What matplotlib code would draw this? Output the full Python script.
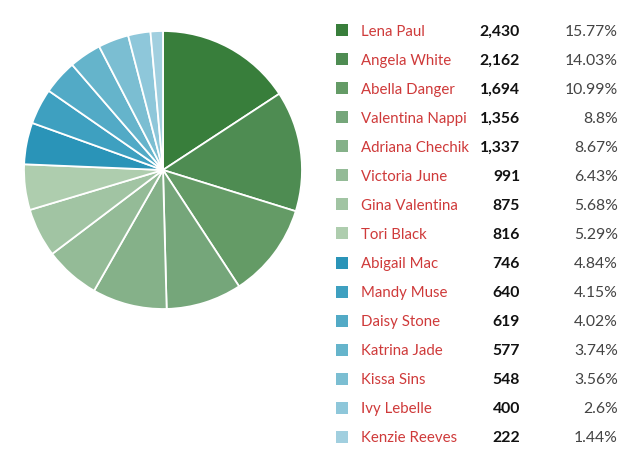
import matplotlib.pyplot as plt
from matplotlib.patches import Rectangle

W, H = 640, 465

names = ['Lena Paul', 'Angela White', 'Abella Danger', 'Valentina Nappi',
         'Adriana Chechik', 'Victoria June', 'Gina Valentina', 'Tori Black',
         'Abigail Mac', 'Mandy Muse', 'Daisy Stone', 'Katrina Jade',
         'Kissa Sins', 'Ivy Lebelle', 'Kenzie Reeves']
counts = [2430, 2162, 1694, 1356, 1337, 991, 875, 816,
          746, 640, 619, 577, 548, 400, 222]
colors = ['#387e3b', '#4e8c52', '#649b66', '#75a67a', '#85b189', '#94bb97',
          '#a1c4a3', '#aecdae', '#2a94b8', '#3ea0c0', '#52aac6', '#65b4cb',
          '#7bbed2', '#8ec7da', '#a1cfdf']

plt.rcParams['font.family'] = ['Lato', 'DejaVu Sans']

fig = plt.figure(figsize=(W / 100, H / 100), dpi=100)

# pie, centre ~(163, 170) px, radius ~139 px
cx, cy, r = 163, 170, 139
ax = fig.add_axes([(cx - r) / W, (H - cy - r) / H, 2 * r / W, 2 * r / H])
ax.pie(counts, colors=colors, startangle=90, counterclock=False,
       wedgeprops=dict(edgecolor='white', linewidth=1.3))
ax.set_xlim(-1, 1)
ax.set_ylim(-1, 1)
ax.set_aspect('equal')
ax.axis('off')

# table-like legend on the right
total = sum(counts)
row0, step = 30, 29.07
for i, (name, n, c) in enumerate(zip(names, counts, colors)):
    y = row0 + i * step
    fy = 1 - (y + 1.5) / H
    fig.patches.append(Rectangle((336 / W, 1 - (y + 6) / H), 12 / W, 12 / H,
                                 transform=fig.transFigure, facecolor=c,
                                 edgecolor='none'))
    fig.text(361 / W, fy, name, color='#cf3a3a', fontsize=10.8, va='center')
    fig.text(520 / W, fy, f'{n:,}', color='#111111', fontsize=11.3,
             fontweight='bold', va='center', ha='right')
    pct = round(n / total * 100, 2)
    fig.text(618 / W, fy, f'{pct:g}%', color='#444444', fontsize=11.3,
             va='center', ha='right')

fig.savefig('out.png', dpi=100)
